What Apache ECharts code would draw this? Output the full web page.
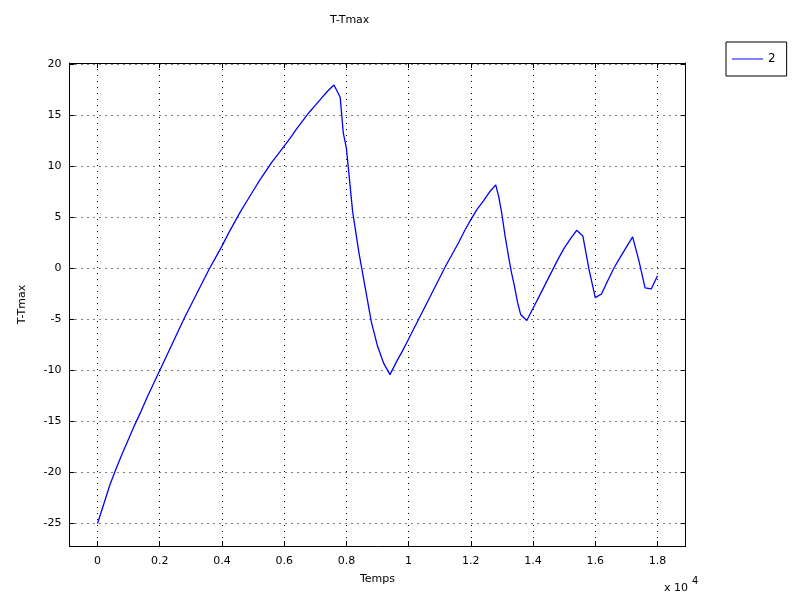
<!DOCTYPE html>
<html>
<head>
<meta charset="utf-8">
<script src="https://cdn.jsdelivr.net/npm/echarts@6/dist/echarts.min.js"></script>
<style>html,body{margin:0;padding:0;background:#fff}#c{width:800px;height:600px}</style>
</head>
<body>
<div id="c"></div>
<script>
const chartTitle = 'T-Tmax';
const xName = 'Temps';
const yName = 'T-Tmax';
const seriesName = '2';
const temps = [0,200,400,600,800,1000,1200,1400,1600,1800,2000,2200,2400,2600,2800,3000,3200,3400,3600,3800,4000,4200,4400,4600,4800,5000,5200,5400,5600,5800,6000,6200,6400,6600,6800,7000,7200,7400,7600,7700,7800,7900,8000,8200,8400,8600,8800,9000,9200,9400,9600,9800,10000,10200,10400,10600,10800,11000,11200,11400,11600,11800,12000,12200,12400,12600,12800,12900,13000,13100,13200,13300,13400,13500,13600,13800,14000,14200,14400,14600,14800,15000,15200,15400,15600,15800,16000,16200,16400,16600,16800,17000,17200,17400,17600,17800,18000];
const tTmax = [-25,-23.1,-21.2,-19.6,-18.1,-16.7,-15.3,-14.0,-12.6,-11.3,-10.0,-8.7,-7.4,-6.1,-4.8,-3.6,-2.4,-1.2,0.0,1.1,2.2,3.4,4.5,5.6,6.6,7.6,8.6,9.5,10.4,11.2,12.0,12.8,13.7,14.5,15.3,16.0,16.7,17.4,18.0,17.4,16.8,13.3,11.8,5.6,1.6,-1.8,-5.2,-7.6,-9.3,-10.4,-9.2,-8.1,-6.9,-5.7,-4.5,-3.3,-2.1,-0.9,0.3,1.4,2.5,3.7,4.8,5.8,6.6,7.5,8.2,7.0,5.3,3.2,1.4,-0.3,-1.7,-3.3,-4.5,-5.1,-3.9,-2.7,-1.5,-0.3,0.9,2.0,2.9,3.75,3.2,-0.1,-2.85,-2.5,-1.2,0.05,1.1,2.1,3.1,0.8,-1.9,-2.0,-0.7];
const xMin = -900, xMax = 18900, xStep = 2000, xScale = 10000;
const yMin = -27.2, yMax = 20.15, yStep = 5;

const font = 'DejaVu Sans';
const chart = echarts.init(document.getElementById('c'), null, {renderer: 'canvas'});
const grid = {left: 69.5, right: 114.5, top: 63, bottom: 54};
const dots = {color: '#000', type: [1, 5], width: 1};
const mkX = (pos, main) => ({
  type: 'value', position: pos, min: xMin, max: xMax, splitNumber: 10,
  axisLine: {show: true, onZero: false, lineStyle: {color: '#000', width: 1}},
  axisTick: {show: true, inside: true, length: 5, lineStyle: {color: '#000'}},
  splitLine: {show: main, lineStyle: dots},
  axisLabel: {show: main, margin: 10, fontFamily: font, fontSize: 11, color: '#000',
    showMinLabel: false, showMaxLabel: false,
    formatter: v => (Math.abs(v % xStep) < 1e-6 ? String(+(v / xScale).toFixed(2)) : '')},
  name: main ? xName : '', nameLocation: 'middle', nameGap: 28,
  nameTextStyle: {fontFamily: font, fontSize: 11, color: '#000'}
});
const mkY = (pos, main) => ({
  type: 'value', position: pos, min: yMin, max: yMax, splitNumber: 10,
  axisLine: {show: true, onZero: false, lineStyle: {color: '#000', width: 1}},
  axisTick: {show: true, inside: true, length: 5, lineStyle: {color: '#000'}},
  splitLine: {show: main, lineStyle: dots},
  axisLabel: {show: main, margin: 8, fontFamily: font, fontSize: 11, color: '#000',
    showMinLabel: false, showMaxLabel: false,
    formatter: v => (Math.abs(v % yStep) < 1e-6 ? String(v) : '')},
  name: main ? yName : '', nameLocation: 'middle', nameGap: 42,
  nameTextStyle: {fontFamily: font, fontSize: 11, color: '#000'}
});
chart.setOption({
  animation: false,
  backgroundColor: '#fff',
  title: {text: chartTitle, left: 325, top: 10,
    textStyle: {fontFamily: font, fontSize: 11, fontWeight: 'normal', color: '#000'}},
  legend: {data: [{name: seriesName, icon: 'rect'}], left: 726, top: 42,
    itemWidth: 31, itemHeight: 1, itemGap: 0, padding: [11, 11, 11, 6],
    borderColor: '#000', borderWidth: 1,
    textStyle: {fontFamily: font, fontSize: 12, color: '#000'}},
  grid: grid,
  xAxis: [mkX('bottom', true), mkX('top', false)],
  yAxis: [mkY('left', true), mkY('right', false)],
  series: [{
    name: seriesName, type: 'line', showSymbol: false, symbol: 'none',
    data: temps.map((t, i) => [t, tTmax[i]]),
    lineStyle: {color: '#0000ff', width: 1.3}, itemStyle: {color: '#0000ff'}
  }],
  graphic: [
    {type: 'text', left: 664, top: 583, style: {text: 'x 10', fontFamily: font, fontSize: 11, fill: '#000'}},
    {type: 'text', left: 692, top: 576, style: {text: '4', fontFamily: font, fontSize: 10, fill: '#000'}}
  ]
});
</script>
</body>
</html>
